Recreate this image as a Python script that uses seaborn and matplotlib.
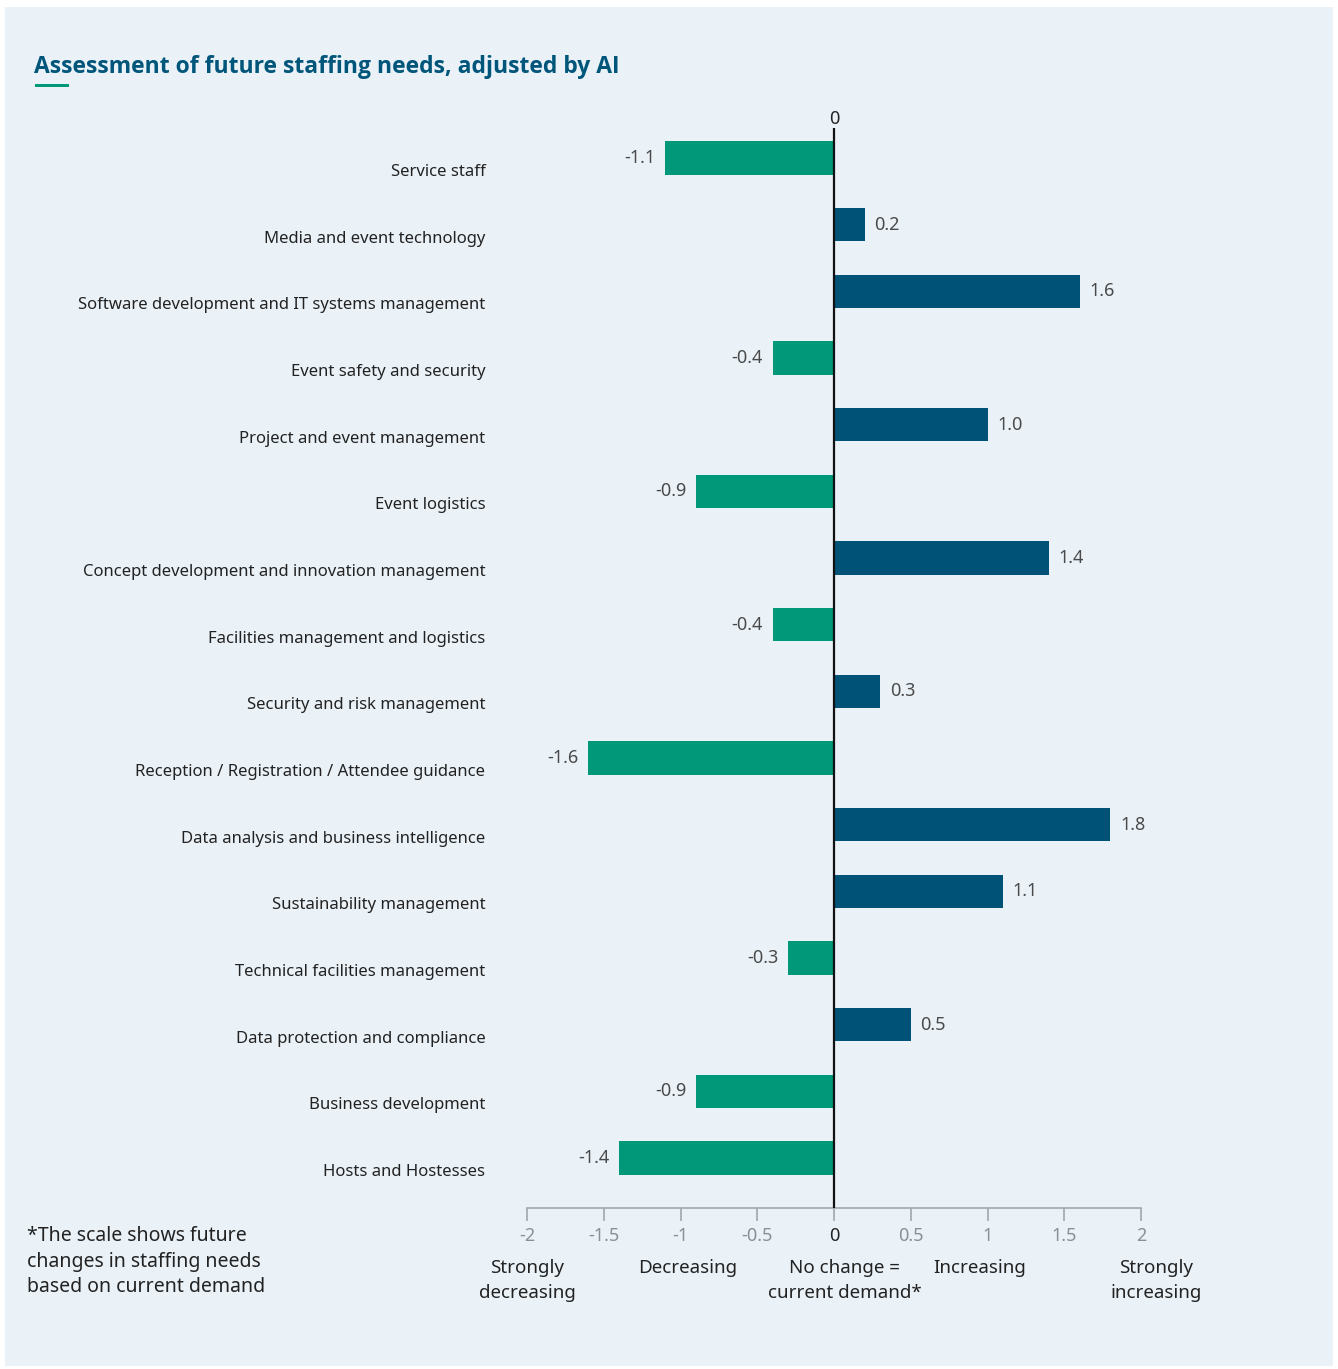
import matplotlib
matplotlib.use("Agg")
import matplotlib.pyplot as plt
import matplotlib.transforms as mtransforms
from matplotlib.patches import Rectangle
import seaborn as sns
import pandas as pd

categories = [
    "Service staff",
    "Media and event technology",
    "Software development and IT systems management",
    "Event safety and security",
    "Project and event management",
    "Event logistics",
    "Concept development and innovation management",
    "Facilities management and logistics",
    "Security and risk management",
    "Reception / Registration / Attendee guidance",
    "Data analysis and business intelligence",
    "Sustainability management",
    "Technical facilities management",
    "Data protection and compliance",
    "Business development",
    "Hosts and Hostesses",
]
values = [-1.1, 0.2, 1.6, -0.4, 1.0, -0.9, 1.4, -0.4, 0.3, -1.6, 1.8, 1.1, -0.3, 0.5, -0.9, -1.4]
tick_values = [-2, -1.5, -1, -0.5, 0, 0.5, 1, 1.5, 2]
tick_labels = ["-2", "-1.5", "-1", "-0.5", "0", "0.5", "1", "1.5", "2"]
scale_labels = ["Strongly\ndecreasing", "Decreasing", "No change =\ncurrent demand*", "Increasing", "Strongly\nincreasing"]
scale_positions = [-2.0, -0.95, 0.07, 0.95, 2.1]

title = "Assessment of future staffing needs, adjusted by AI"
footnote = "*The scale shows future\nchanges in staffing needs\nbased on current demand"

GREEN = "#009878"
NAVY = "#005377"
BG = "#EAF2F8"

df = pd.DataFrame({"category": categories, "value": values})
df["direction"] = ["neg" if v < 0 else "pos" for v in values]

sns.set_theme(style="white")
plt.rcParams["font.family"] = ["Noto Sans", "DejaVu Sans"]

W, H = 1338, 1369
fig = plt.figure(figsize=(W / 100, H / 100), dpi=100, facecolor="white")
fig.patches.append(Rectangle((5 / W, 1 - 1366 / H), (1333 - 5) / W, (1366 - 7) / H,
                             transform=fig.transFigure, facecolor=BG, edgecolor="none", zorder=-10))

left, right = 527, 1141
top, bottom = 128, 1208
ax = fig.add_axes([left / W, 1 - bottom / H, (right - left) / W, (bottom - top) / H])
ax.set_facecolor("none")

sns.barplot(data=df, x="value", y="category", hue="direction",
            palette={"neg": GREEN, "pos": NAVY}, dodge=False, width=0.5,
            legend=False, ax=ax, saturation=1, linewidth=0, edgecolor="none")

ax.set_xlim(-2, 2)
ax.set_ylim(len(categories) - 0.25, -0.45)

for cont in ax.containers:
    ax.bar_label(cont, fmt="%.1f", padding=7, fontsize=13, color="#4a4a4a")

ax.axvline(0, color="#111111", lw=1.6, zorder=5)

for s in ["top", "right", "left"]:
    ax.spines[s].set_visible(False)
ax.spines["bottom"].set_color("#a0a8ae")
ax.spines["bottom"].set_linewidth(1.2)

ax.set_xticks(tick_values)
ax.set_xticklabels(tick_labels)
ax.tick_params(axis="x", bottom=True, direction="out", length=9, width=1.2,
               color="#a0a8ae", labelsize=13, labelcolor="#8a8f94", pad=5)
for lab in ax.get_xticklabels():
    if lab.get_text() == "0":
        lab.set_color("#222222")

ax.set_xlabel("")
ax.set_ylabel("")
ax.tick_params(axis="y", left=False, labelsize=12, labelcolor="#222222", pad=24)
offset = mtransforms.ScaledTranslation(0, -12 / 100, fig.dpi_scale_trans)
for lab in ax.get_yticklabels():
    lab.set_transform(lab.get_transform() + offset)

# top zero label
ax.text(0, 1.0, "0", transform=mtransforms.blended_transform_factory(ax.transData, ax.transAxes),
        ha="center", va="bottom", fontsize=13, color="#222222")

# scale descriptors
for txt, pos in zip(scale_labels, scale_positions):
    ax.text(pos, 1 - 1259 / H, txt, transform=mtransforms.blended_transform_factory(ax.transData, fig.transFigure),
            ha="center", va="top", fontsize=13.5, color="#222222", linespacing=1.5)

fig.text(27 / W, 1 - 1226 / H, footnote, ha="left", va="top", fontsize=14, color="#222222", linespacing=1.38)

fig.text(34 / W, 1 - 67 / H, title, ha="left", va="center", fontsize=16.5, fontweight="bold",
         family=["Open Sans", "DejaVu Sans"], color="#00567A")
fig.patches.append(Rectangle((35 / W, 1 - 87 / H), 34 / W, 3 / H, transform=fig.transFigure,
                             facecolor=GREEN, edgecolor="none"))

fig.savefig("out.png", dpi=100, facecolor="white")
